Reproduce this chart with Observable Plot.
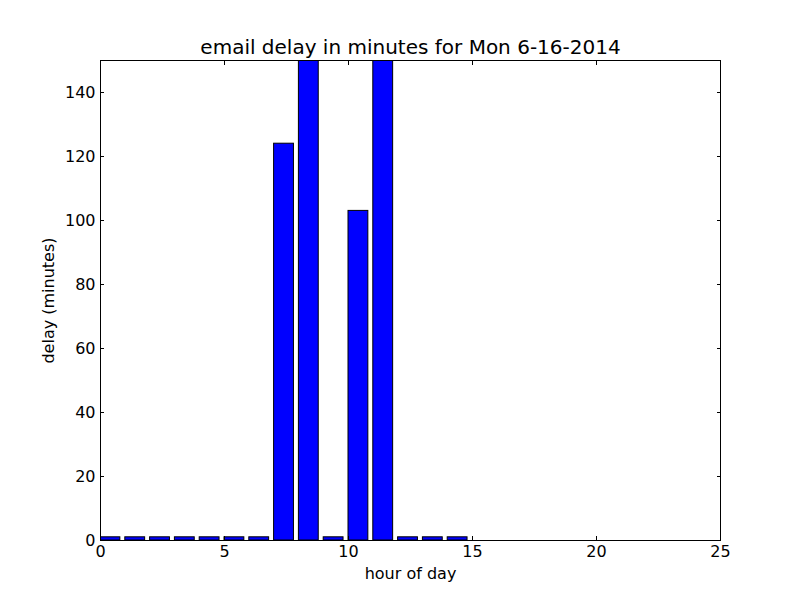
<!DOCTYPE html>
<html>
<head>
<meta charset="utf-8">
<script src="https://cdn.jsdelivr.net/npm/d3@7"></script>
<script src="https://cdn.jsdelivr.net/npm/@observablehq/plot@0.6"></script>
<style>
  html, body { margin: 0; padding: 0; background: #fff; }
  svg { font-family: "DejaVu Sans", sans-serif; }
</style>
</head>
<body>
<div id="chart"></div>
<script>
const hours = [0,1,2,3,4,5,6,7,8,9,10,11,12,13,14,15,16,17,18,19,20,21,22,23];
const delays = [1,1,1,1,1,1,1,124,175,1,103,180,1,1,1,0,0,0,0,0,0,0,0,0];
const xTicks = [0,5,10,15,20,25];
const yTicks = [0,20,40,60,80,100,120,140];
const barWidth = 0.8;
const titleText = "email delay in minutes for Mon 6-16-2014";

const data = hours.map((h, i) => ({hour: h, end: h + barWidth, delay: delays[i]}));

const chart = Plot.plot({
  width: 800,
  height: 600,
  marginLeft: 100,
  marginRight: 80,
  marginTop: 60,
  marginBottom: 60,
  style: {fontFamily: "DejaVu Sans, sans-serif", fontSize: "16px", background: "#fff", color: "#000"},
  x: {domain: [0, 25]},
  y: {domain: [0, 150]},
  marks: [
    Plot.rectY(data, {x1: "hour", x2: "end", y: "delay", fill: "#0000ff", stroke: "#000", strokeWidth: 1, clip: true}),
    Plot.frame({stroke: "#000", strokeWidth: 1}),
    Plot.axisX({ticks: xTicks, tickSize: -4, tickPadding: 9, tickFormat: d => String(d), fontSize: 16,
      label: "hour of day", labelAnchor: "center", labelArrow: "none", labelOffset: 38}),
    Plot.axisX({anchor: "top", ticks: xTicks, tickSize: -4, tickFormat: () => "", label: null}),
    Plot.axisY({ticks: yTicks, tickSize: -4, tickPadding: 9, tickFormat: d => String(d), fontSize: 16,
      label: "delay (minutes)", labelAnchor: "center", labelArrow: "none", labelOffset: 58}),
    Plot.axisY({anchor: "right", ticks: yTicks, tickSize: -4, tickFormat: () => "", label: null}),
    Plot.text([titleText], {text: d => d, frameAnchor: "top", lineAnchor: "bottom", dy: -7, fontSize: 20, fill: "#000"})
  ]
});
document.getElementById("chart").appendChild(chart);
</script>
</body>
</html>
